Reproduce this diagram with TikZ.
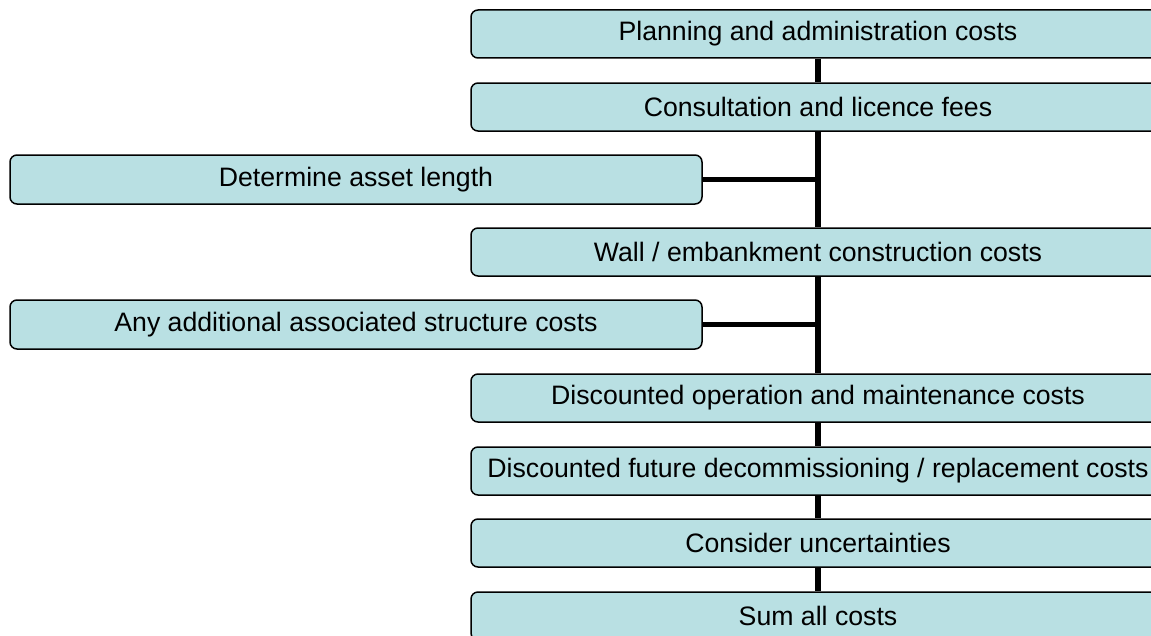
\documentclass[tikz,border=0pt]{standalone}
\usepackage{fontspec}
\setmainfont{Liberation Sans}
\definecolor{boxfill}{RGB}{185,224,227}
\begin{document}
\begin{tikzpicture}[x=0.75pt,y=-0.75pt,
  costbox/.style={draw=black, line width=1.125pt, fill=boxfill, rounded corners=5.25pt,
    minimum height=36pt, inner sep=0pt, font=\fontsize{20pt}{22pt}\selectfont},
  mainbox/.style={costbox, minimum width=520.5pt},
  sidebox/.style={costbox, minimum width=519pt, minimum height=36.75pt},
  link/.style={line width=4.125pt, black}]
\useasboundingbox (0,0) rectangle (1151,635);
\clip (0,0) rectangle (1151,635);
% main column of cost steps
\node[mainbox] (plan)    at (818,34)  {Planning and administration costs};
\node[mainbox] (consult) at (818,107) {Consultation and licence fees};
\node[mainbox] (wall)    at (818,252) {Wall / embankment construction costs};
\node[mainbox] (oper)    at (818,398) {Discounted operation and maintenance costs};
\node[mainbox] (decomm)  at (818,471) {Discounted future decommissioning / replacement costs};
\node[mainbox] (unc)     at (818,543) {Consider uncertainties};
\node[mainbox] (sum)     at (818,616) {Sum all costs};
% side inputs
\node[sidebox] (asset)  at (356,179.5) {Determine asset length};
\node[sidebox] (struct) at (356,324.5) {Any additional associated structure costs};
% spine
\draw[link] (plan.south) -- (consult.north);
\draw[link] (consult.south) -- (wall.north);
\draw[link] (wall.south) -- (oper.north);
\draw[link] (oper.south) -- (decomm.north);
\draw[link] (decomm.south) -- (unc.north);
\draw[link] (unc.south) -- (sum.north);
% side branches into the spine
\draw[link] (asset.east) -- (asset.east -| consult.south);
\draw[link] (struct.east) -- (struct.east -| wall.south);
\end{tikzpicture}
\end{document}
